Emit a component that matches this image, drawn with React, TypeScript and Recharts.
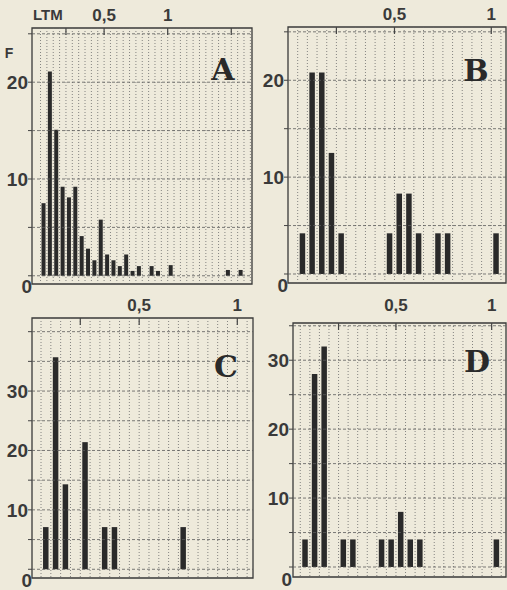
import React from "react";
import { BarChart, Bar, XAxis, YAxis, ReferenceLine, ReferenceArea } from "recharts";

// bin centres (LTM, width 0.05) and frequency F (%) per panel
const binsA = [0.025, 0.075, 0.125, 0.175, 0.225, 0.275, 0.325, 0.375, 0.425, 0.475, 0.525, 0.575, 0.625, 0.675, 0.725, 0.775, 0.875, 0.925, 1.025, 1.475, 1.575];
const freqA = [7.5, 21.1, 15.1, 9.2, 8.1, 9.2, 4.1, 2.8, 1.6, 5.8, 2.2, 1.6, 1.0, 2.2, 0.5, 1.0, 1.0, 0.5, 1.1, 0.6, 0.6];

const binsB = [0.025, 0.075, 0.125, 0.175, 0.225, 0.475, 0.525, 0.575, 0.625, 0.725, 0.775, 1.025];
const freqB = [4.2, 20.8, 20.8, 12.5, 4.2, 4.2, 8.3, 8.3, 4.2, 4.2, 4.2, 4.2];

const binsC = [0.025, 0.075, 0.125, 0.225, 0.325, 0.375, 0.725];
const freqC = [7.1, 35.7, 14.3, 21.4, 7.1, 7.1, 7.1];

const binsD = [0.025, 0.075, 0.125, 0.225, 0.275, 0.425, 0.475, 0.525, 0.575, 0.625, 1.025];
const freqD = [4, 28, 32, 4, 4, 4, 4, 8, 4, 4, 4];

const topTicksA = [0.2, 0.5, 1, 1.5];
const topTicks = [0.2, 0.5, 1];
const topLabels: Record<string, string> = { "0.5": "0,5", "1": "1" };

const yTicksAB = [0, 5, 10, 15, 20, 25];
const yTicksC = [0, 5, 10, 15, 20, 25, 30, 35, 40];
const yTicksD = [0, 5, 10, 15, 20, 25, 30, 35];
const yLabelsAB = [0, 10, 20];
const yLabelsCD = [0, 10, 20, 30];

const INK = "#2a2a2a";
const PAPER = "#eeeadb";
const SANS = "'Liberation Sans', Arial, sans-serif";

// outer space around each frame; the axes themselves take 1px
const PAD = { top: 30, right: 12, bottom: 16, left: 40 };
const M = { top: PAD.top - 1, right: PAD.right, bottom: PAD.bottom, left: PAD.left - 1 };

const toRows = (bins: number[], freq: number[]) => bins.map((x, i) => ({ x, f: freq[i] }));

const TopTick = (props: any) => {
  const { x, y, payload, gap } = props;
  const label = topLabels[String(payload.value)];
  return (
    <g>
      <line x1={x} x2={x} y1={y} y2={y + 7} stroke="#444" strokeWidth={1.2} />
      {label && (
        <text x={x} y={y - gap} dy="0.35em" textAnchor="middle" fontFamily={SANS} fontWeight={700} fontSize={17} fill="#3a3a3a">
          {label}
        </text>
      )}
    </g>
  );
};

const LeftTick = (props: any) => {
  const { x, y, payload, bottom, zeroShift, labels } = props;
  const v = payload.value;
  const show = labels.includes(v);
  return (
    <g>
      <line x1={x - 4} x2={x} y1={y} y2={y} stroke="#444" strokeWidth={1} />
      {show && (
        <text
          x={v === 0 ? x + zeroShift : x - 4}
          y={v === 0 ? bottom + 2 : y}
          dy="0.36em"
          textAnchor="end"
          fontFamily={SANS}
          fontWeight={700}
          fontSize={19}
          fill="#3a3a3a"
        >
          {v}
        </text>
      )}
    </g>
  );
};

type Frame = { left: number; right: number; top: number; bottom: number };

const Panel = ({
  rows, frame, xDomain, yDomain, xTicks, yTicks, yLabels, barSize, gap, zeroShift,
}: {
  rows: { x: number; f: number }[];
  frame: Frame;
  xDomain: [number, number];
  yDomain: [number, number];
  xTicks: number[];
  yTicks: number[];
  yLabels: number[];
  barSize: number;
  gap: number;
  zeroShift: number;
}) => {
  const w = frame.right - frame.left + PAD.left + PAD.right;
  const h = frame.bottom - frame.top + PAD.top + PAD.bottom;
  const plotBottom = PAD.top + (frame.bottom - frame.top);
  const vGrid: number[] = [];
  for (let i = 0; i * 0.05 <= xDomain[1]; i++) vGrid.push(+(i * 0.05).toFixed(3));
  return (
    <div style={{ position: "absolute", left: frame.left - PAD.left, top: frame.top - PAD.top }}>
      <BarChart width={w} height={h} data={rows} margin={M}>
        <XAxis
          type="number"
          dataKey="x"
          orientation="top"
          domain={xDomain}
          allowDataOverflow
          ticks={xTicks}
          interval={0}
          height={1}
          tickSize={0}
          tickMargin={0}
          axisLine={false}
          tickLine={false}
          tick={<TopTick gap={gap} />}
        />
        <YAxis
          type="number"
          domain={yDomain}
          allowDataOverflow
          ticks={yTicks}
          interval={0}
          width={1}
          tickSize={0}
          tickMargin={0}
          axisLine={false}
          tickLine={false}
          tick={<LeftTick bottom={plotBottom} zeroShift={zeroShift} labels={yLabels} />}
        />
        {vGrid.map((v) => (
          <ReferenceLine key={"v" + v} x={v} stroke="#6a6a6a" strokeWidth={0.8} strokeDasharray="1 2" />
        ))}
        {yTicks.map((v) => (
          <ReferenceLine key={"h" + v} y={v} stroke="#5a5a5a" strokeWidth={0.8} strokeDasharray="3 2" />
        ))}
        <Bar dataKey="f" fill={INK} barSize={barSize} isAnimationActive={false} />
        <ReferenceArea x1={xDomain[0]} x2={xDomain[1]} y1={yDomain[0]} y2={yDomain[1]} fill="none" stroke="#3a3a3a" strokeWidth={1.3} />
      </BarChart>
    </div>
  );
};

const Letter = ({ x, y, children }: { x: number; y: number; children: string }) => (
  <text x={x} y={y} textAnchor="middle" fontFamily="'DejaVu Serif', serif" fontWeight={700} fontSize={30} fill="#2a2a2a">
    {children}
  </text>
);

export default function App() {
  return (
    <div style={{ position: "fixed", left: 0, top: 0, width: 507, height: 590, overflow: "hidden", background: PAPER }}>
      <Panel
        rows={toRows(binsA, freqA)}
        frame={{ left: 32, right: 252, top: 28, bottom: 284 }}
        xDomain={[-0.067, 1.663]}
        yDomain={[-0.85, 25.6]}
        xTicks={topTicksA}
        yTicks={yTicksAB}
        yLabels={yLabelsAB}
        barSize={4}
        gap={13}
        zeroShift={0}
      />
      <Panel
        rows={toRows(binsB, freqB)}
        frame={{ left: 288, right: 506, top: 27, bottom: 283 }}
        xDomain={[-0.05, 1.076]}
        yDomain={[-0.93, 25.5]}
        xTicks={topTicks}
        yTicks={yTicksAB}
        yLabels={yLabelsAB}
        barSize={5.5}
        gap={13}
        zeroShift={0}
      />
      <Panel
        rows={toRows(binsC, freqC)}
        frame={{ left: 32, right: 253, top: 318, bottom: 578 }}
        xDomain={[-0.046, 1.08]}
        yDomain={[-1.47, 42.3]}
        xTicks={topTicks}
        yTicks={yTicksC}
        yLabels={yLabelsCD}
        barSize={5.5}
        gap={13}
        zeroShift={0}
      />
      <Panel
        rows={toRows(binsD, freqD)}
        frame={{ left: 293, right: 506, top: 323, bottom: 577 }}
        xDomain={[-0.038, 1.075]}
        yDomain={[-1.45, 35.4]}
        xTicks={topTicks}
        yTicks={yTicksD}
        yLabels={yLabelsCD}
        barSize={5.5}
        gap={18}
        zeroShift={-1}
      />
      <svg width={507} height={590} style={{ position: "absolute", left: 0, top: 0, pointerEvents: "none" }}>
        <text x={33} y={15} dy="0.35em" fontFamily={SANS} fontWeight={700} fontSize={15} fill="#3a3a3a">LTM</text>
        <text x={9} y={53} dy="0.35em" textAnchor="middle" fontFamily={SANS} fontWeight={700} fontSize={14} fill="#3a3a3a">F</text>
        <Letter x={223} y={80}>A</Letter>
        <Letter x={476} y={81}>B</Letter>
        <Letter x={226} y={377}>C</Letter>
        <Letter x={477} y={372}>D</Letter>
      </svg>
    </div>
  );
}
